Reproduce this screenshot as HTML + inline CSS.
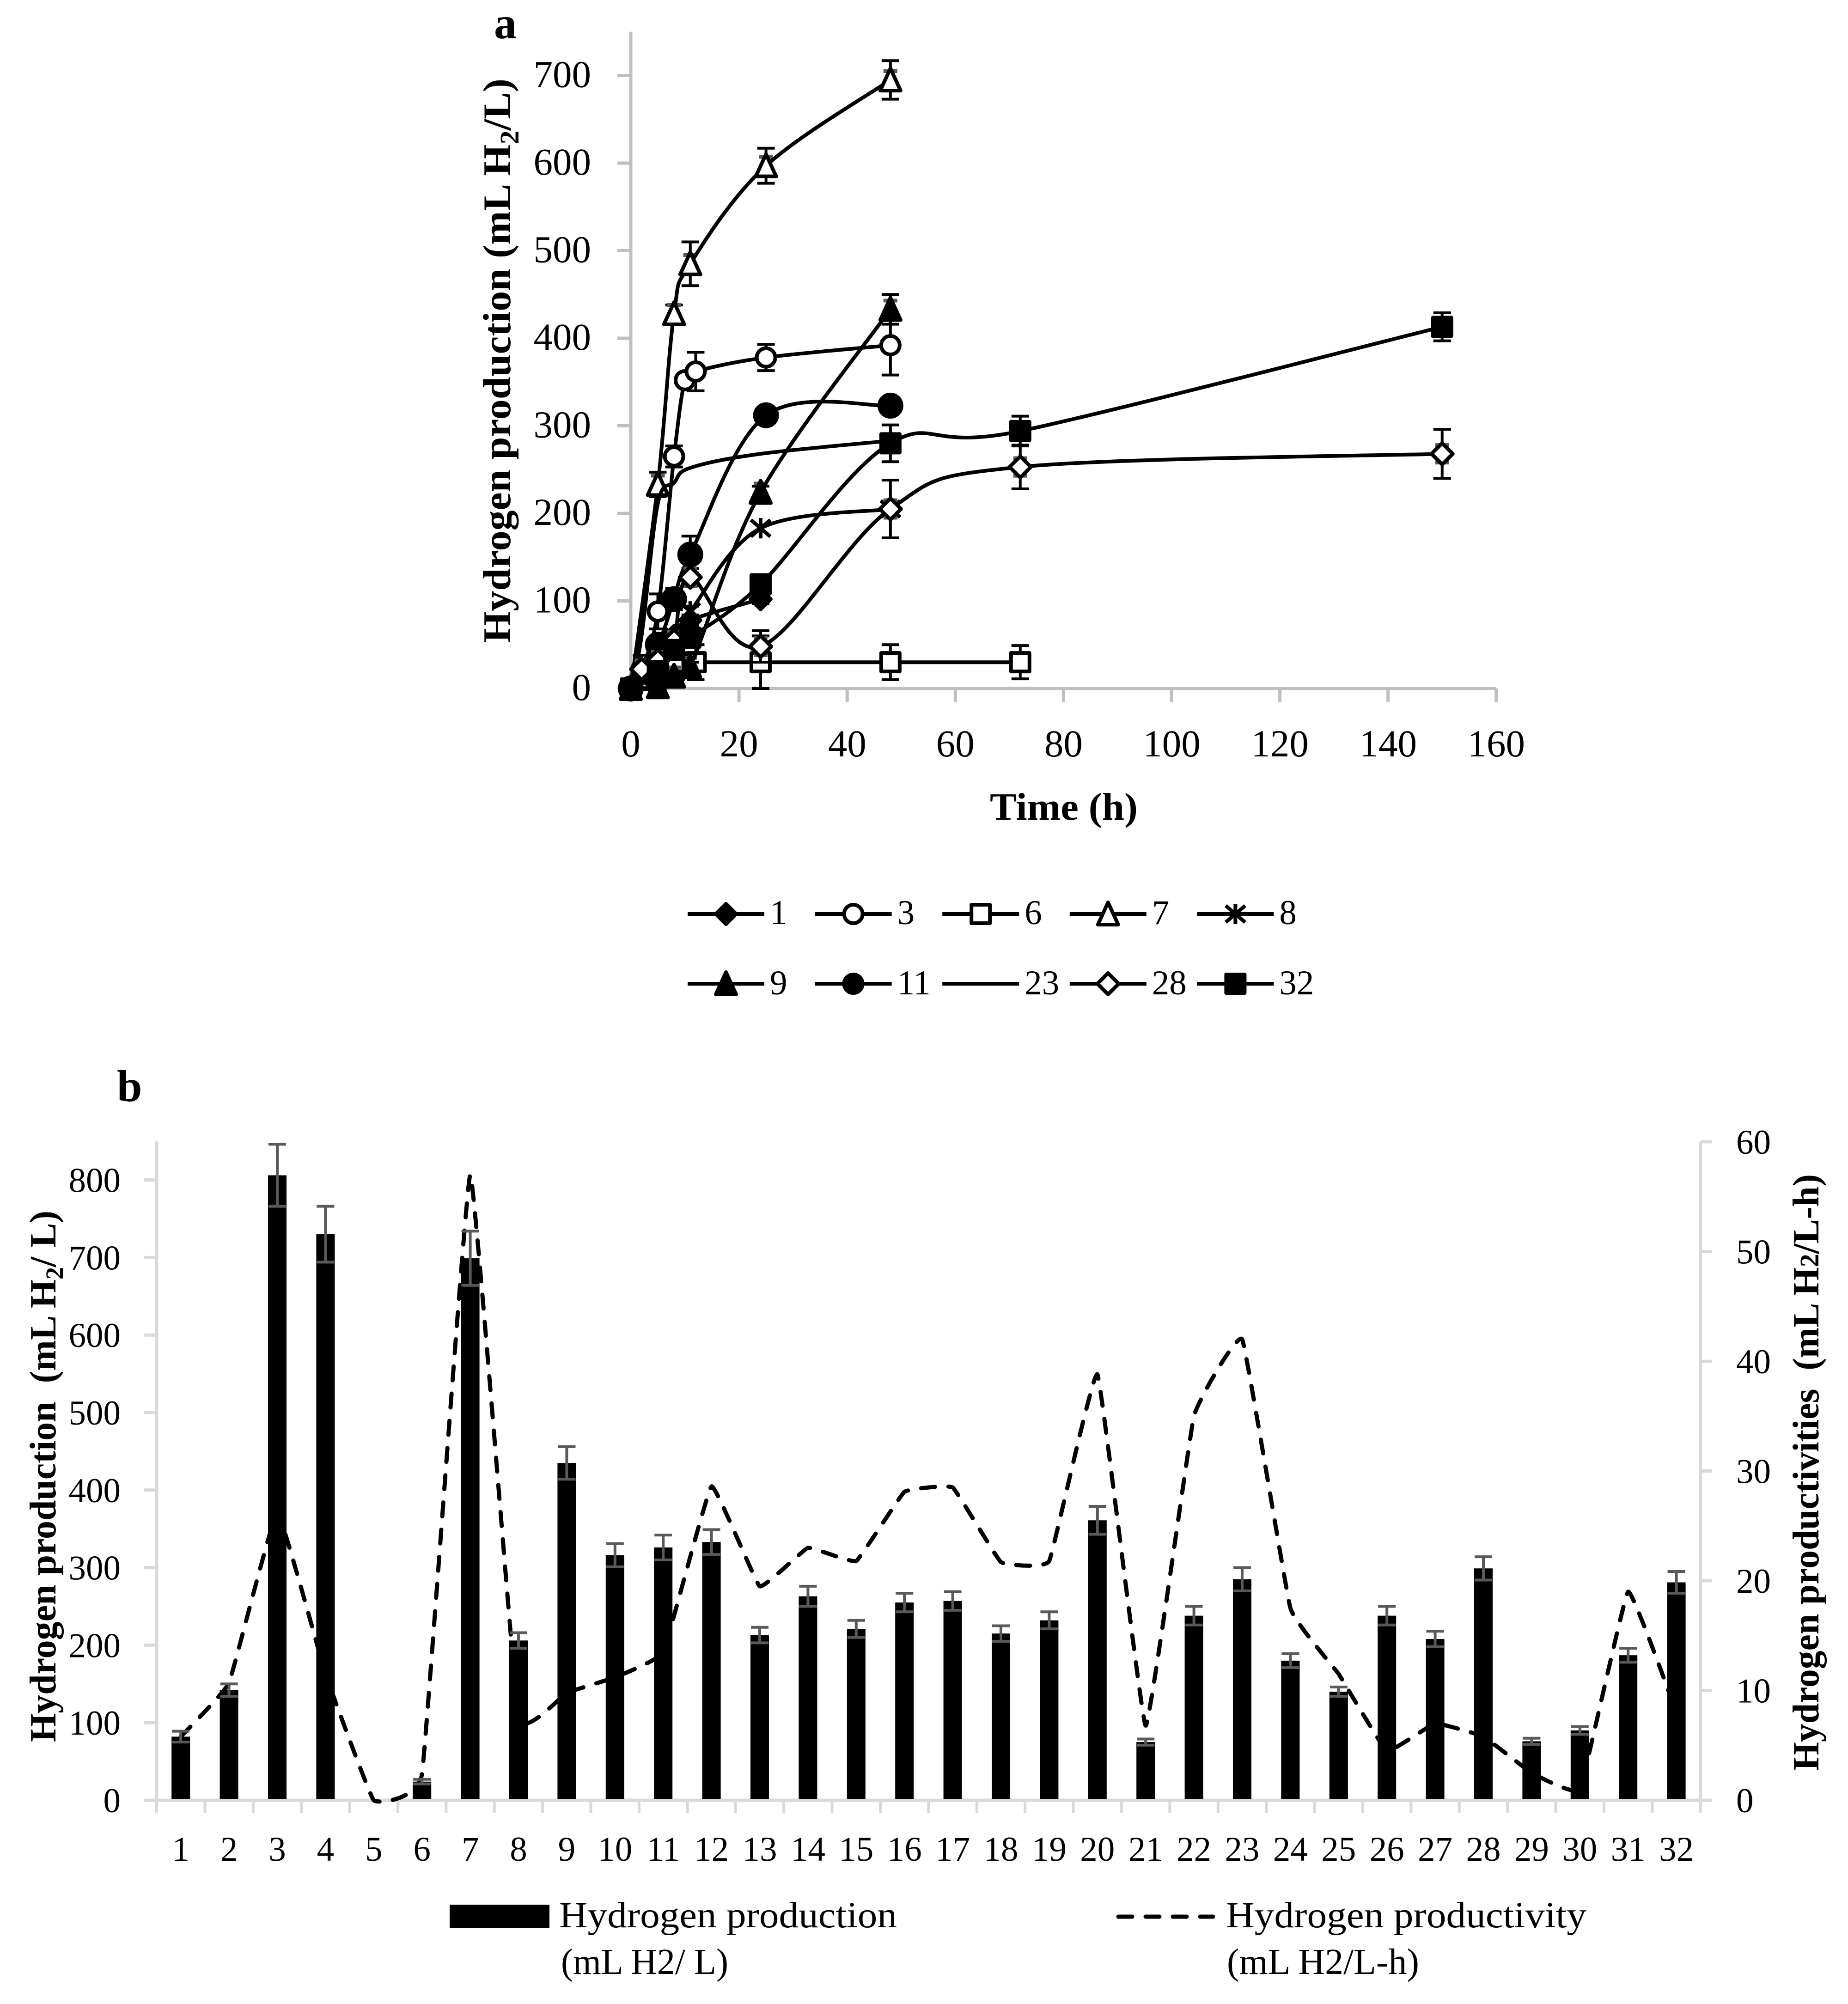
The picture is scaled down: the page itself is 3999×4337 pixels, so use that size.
<!DOCTYPE html>
<html lang="en">
<head>
<meta charset="utf-8">
<title>Hydrogen production charts</title>
<style>
html,body{margin:0;padding:0;background:#fff;}
svg{display:block;}
text{font-family:"Liberation Serif",serif;fill:#000;}
</style>
</head>
<body>
<svg id="figure" xmlns="http://www.w3.org/2000/svg" width="3999" height="4337" viewBox="0 0 3999 4337">
  <rect x="0" y="0" width="3999" height="4337" fill="#fff"/>
  <g id="chartA"></g>
  <g id="chartB"></g>

  <text x="1069" y="83" font-size="98" font-weight="bold">a</text>
  <text transform="translate(1104,1391) rotate(-90)" font-size="85" font-weight="bold" textLength="1221" lengthAdjust="spacingAndGlyphs">Hydrogen production (mL H<tspan font-size="58" dy="18">2</tspan><tspan dy="-18">/L)</tspan></text>
  <text x="2142" y="1774" font-size="84" font-weight="bold" textLength="320" lengthAdjust="spacingAndGlyphs">Time (h)</text>

  <text x="253" y="2383" font-size="98" font-weight="bold">b</text>
  <text transform="translate(120,3770) rotate(-90)" font-size="80" font-weight="bold" textLength="1150" lengthAdjust="spacingAndGlyphs" xml:space="preserve">Hydrogen production  (mL H<tspan font-size="54" dy="16">2</tspan><tspan dy="-16">/ L)</tspan></text>
  <text transform="translate(3935,3832) rotate(-90)" font-size="80" font-weight="bold" textLength="1291" lengthAdjust="spacingAndGlyphs" xml:space="preserve">Hydrogen productivities  (mL H<tspan font-size="58">2</tspan>/L-h)</text>

  <rect x="973" y="4122" width="216" height="51" fill="#000"/>
  <text x="1210" y="4171" font-size="79" textLength="731" lengthAdjust="spacingAndGlyphs">Hydrogen production</text>
  <text x="1214" y="4272" font-size="79" textLength="362" lengthAdjust="spacingAndGlyphs">(mL H2/ L)</text>
  <line x1="2420" y1="4148" x2="2625" y2="4148" stroke="#000" stroke-width="9" stroke-dasharray="30 29" stroke-linecap="round"/>
  <text x="2653" y="4171" font-size="79" textLength="780" lengthAdjust="spacingAndGlyphs">Hydrogen productivity</text>
  <text x="2655" y="4272" font-size="79" textLength="416" lengthAdjust="spacingAndGlyphs">(mL H2/L-h)</text>
</svg>

<script>
/* ---------- Chart a data ---------- */
const timeTicks = [0, 20, 40, 60, 80, 100, 120, 140, 160];
const productionTicks = [0, 100, 200, 300, 400, 500, 600, 700];

const strain1Time = [0, 2, 5, 8, 11, 24];
const strain1Value = [0, 15, 40, 60, 78, 102];
const strain1Error = [0, 2, 4, 5, 6, 5];

const strain3Time = [0, 2, 5, 8, 10, 12, 25, 48];
const strain3Value = [0, 22, 88, 265, 352, 362, 378, 392];
const strain3Error = [0, 3, 20, 12, 0, 22, 15, 34];

const strain6Time = [0, 2, 5, 8, 12, 24, 48, 72];
const strain6Value = [0, 10, 28, 30, 30, 30, 30, 30];
const strain6Error = [0, 3, 5, 5, 20, 30, 20, 19];

const strain7Time = [0, 5, 8, 11, 25, 48];
const strain7Value = [0, 233, 428, 485, 597, 695];
const strain7Error = [0, 14, 10, 25, 20, 22];

const strain8Time = [0, 2, 5, 8, 11, 24, 48];
const strain8Value = [0, 10, 45, 60, 88, 183, 205];
const strain8Error = [0, 2, 5, 6, 6, 0, 0];

const strain9Time = [0, 5, 8, 11, 24, 48];
const strain9Value = [0, 2, 14, 25, 224, 433];
const strain9Error = [0, 2, 3, 5, 7, 17];

const strain11Time = [0, 5, 8, 11, 25, 48];
const strain11Value = [0, 50, 102, 153, 312, 323];
const strain11Error = [0, 8, 12, 21, 0, 0];

const strain23Time = [0, 2, 5, 8, 11, 24, 48];
const strain23Value = [0, 60, 211, 235, 252, 268, 283];

const strain28Time = [0, 2, 5, 8, 11, 24, 48, 72, 150];
const strain28Value = [0, 22, 32, 55, 127, 48, 205, 253, 268];
const strain28Error = [0, 16, 6, 8, 10, 18, 33, 25, 28];

const strain32Time = [0, 5, 8, 11, 24, 48, 72, 150];
const strain32Value = [0, 20, 44, 58, 119, 280, 294, 413];
const strain32Error = [0, 5, 8, 10, 6, 21, 17, 16];

const legendRow1 = ['1', '3', '6', '7', '8'];
const legendRow2 = ['9', '11', '23', '28', '32'];

/* ---------- Chart b data ---------- */
const samples = ['1','2','3','4','5','6','7','8','9','10','11','12','13','14','15','16','17','18','19','20','21','22','23','24','25','26','27','28','29','30','31','32'];
const productionValues = [82, 142, 806, 730, 0, 24, 699, 206, 435, 316, 326, 333, 213, 263, 221, 255, 257, 215, 232, 361, 75, 238, 285, 180, 140, 238, 208, 299, 76, 90, 187, 281];
const productionErrors = [7, 8, 40, 36, 0, 3, 35, 10, 21, 15, 16, 16, 10, 13, 11, 12, 12, 10, 11, 18, 4, 12, 15, 9, 6, 12, 10, 15, 4, 5, 9, 14];
const productivityValues = [5.8, 10.7, 26.2, 11.5, 0, 2.4, 57, 7.5, 9.8, 11.2, 13.5, 28.6, 19.5, 23, 21.8, 28.1, 28.5, 21.7, 21.8, 38.8, 6.8, 35, 42, 17.5, 11.5, 4.5, 7, 5.8, 2.5, 1, 19, 8];
const leftAxisTicks = [0, 100, 200, 300, 400, 500, 600, 700, 800];
const rightAxisTicks = [0, 10, 20, 30, 40, 50, 60];

/* ---------- Helpers ---------- */
const NS = 'http://www.w3.org/2000/svg';
function make(tag, attrs, parent) {
  const el = document.createElementNS(NS, tag);
  for (const k in attrs) el.setAttribute(k, attrs[k]);
  parent.appendChild(el);
  return el;
}
function smoothPath(pts, k) {
  let d = 'M' + pts[0][0] + ' ' + pts[0][1];
  for (let i = 0; i < pts.length - 1; i++) {
    const p0 = pts[i - 1] || pts[i], p1 = pts[i], p2 = pts[i + 1], p3 = pts[i + 2] || p2;
    const c1x = p1[0] + (p2[0] - p0[0]) / k, c1y = p1[1] + (p2[1] - p0[1]) / k;
    const c2x = p2[0] - (p3[0] - p1[0]) / k, c2y = p2[1] - (p3[1] - p1[1]) / k;
    d += ' C' + c1x.toFixed(1) + ' ' + c1y.toFixed(1) + ' ' + c2x.toFixed(1) + ' ' + c2y.toFixed(1) + ' ' + p2[0].toFixed(1) + ' ' + p2[1].toFixed(1);
  }
  return d;
}
const STROKE = 8;
function drawMarker(kind, cx, cy, parent, circleR) {
  const common = { stroke: '#000', 'stroke-width': STROKE, 'stroke-linejoin': 'round' };
  let el;
  if (kind === 'diamond-filled' || kind === 'diamond-open') {
    const r = kind === 'diamond-open' ? 23 : 22;
    el = make('polygon', Object.assign({ points: (cx) + ',' + (cy - r) + ' ' + (cx + r) + ',' + cy + ' ' + cx + ',' + (cy + r) + ' ' + (cx - r) + ',' + cy, fill: kind === 'diamond-open' ? '#fff' : '#000' }, common), parent);
  } else if (kind === 'circle-open') {
    el = make('circle', Object.assign({ cx: cx, cy: cy, r: 20, fill: '#fff' }, common), parent);
  } else if (kind === 'circle-filled') {
    el = make('circle', Object.assign({ cx: cx, cy: cy, r: circleR || 24, fill: '#000' }, common), parent);
  } else if (kind === 'square-open' || kind === 'square-filled') {
    el = make('rect', Object.assign({ x: cx - 20, y: cy - 20, width: 40, height: 40, fill: kind === 'square-open' ? '#fff' : '#000' }, common), parent);
  } else if (kind === 'triangle-open' || kind === 'triangle-filled') {
    el = make('polygon', Object.assign({ points: cx + ',' + (cy - 25) + ' ' + (cx + 22) + ',' + (cy + 23) + ' ' + (cx - 22) + ',' + (cy + 23), fill: kind === 'triangle-open' ? '#fff' : '#000' }, common), parent);
  } else if (kind === 'star') {
    el = make('path', { d: 'M' + (cx - 21) + ' ' + (cy - 18) + 'L' + (cx + 21) + ' ' + (cy + 18) + 'M' + (cx + 21) + ' ' + (cy - 18) + 'L' + (cx - 21) + ' ' + (cy + 18) + 'M' + cx + ' ' + (cy - 22) + 'L' + cx + ' ' + (cy + 22), stroke: '#000', 'stroke-width': STROKE, fill: 'none' }, parent);
  }
  return el;
}

/* ---------- Chart a ---------- */
const chartA = document.getElementById('chartA');
const xA = t => 1365 + t * 11.705;
const yA = v => 1490 - v * 1.895;
const AXIS_A = '#bfbfbf';

const xAxisA = make('line', { x1: xA(0), y1: yA(0), x2: xA(160), y2: yA(0), stroke: AXIS_A, 'stroke-width': 7 }, chartA);


const yAxisA = make('line', { x1: xA(0), y1: yA(750), x2: xA(0), y2: yA(0), stroke: AXIS_A, 'stroke-width': 7 }, chartA);



timeTicks.forEach(t => {
  const tick = make('line', { x1: xA(t), y1: yA(0), x2: xA(t), y2: yA(0) + 29, stroke: AXIS_A, 'stroke-width': 7 }, chartA);
  
  
  const label = make('text', { x: xA(t), y: 1637, 'font-size': 83, 'text-anchor': 'middle' }, chartA);
  label.textContent = t;
  
  
});
productionTicks.forEach(v => {
  const tick = make('line', { x1: xA(0) - 29, y1: yA(v), x2: xA(0), y2: yA(v), stroke: AXIS_A, 'stroke-width': 7 }, chartA);
  
  
  const label = make('text', { x: 1279, y: yA(v) + 25, 'font-size': 83, 'text-anchor': 'end' }, chartA);
  label.textContent = v;
  
  
});

function drawSeries(name, times, values, errors, kind) {
  const g = make('g', {}, chartA);
  
  
  if (errors) {
    times.forEach((t, i) => {
      if (!errors[i]) return;
      const hi = yA(values[i] + errors[i]), lo = yA(values[i] - errors[i]), x = xA(t);
      const bar = make('path', { d: 'M' + x + ' ' + hi + 'L' + x + ' ' + lo + 'M' + (x - 19) + ' ' + hi + 'L' + (x + 19) + ' ' + hi + 'M' + (x - 19) + ' ' + lo + 'L' + (x + 19) + ' ' + lo, stroke: '#000', 'stroke-width': 6, fill: 'none' }, g);
      
      
      if (kind === 'triangle-open' || kind === 'triangle-filled' || kind === 'diamond-open') {
        const y0 = yA(values[i]);
        const shade = make('path', { d: 'M' + (x - 15) + ' ' + (y0 - 19) + 'L' + (x + 15) + ' ' + (y0 - 19) + 'M' + (x - 15) + ' ' + (y0 + 19) + 'L' + (x + 15) + ' ' + (y0 + 19), stroke: '#595959', 'stroke-width': 8, fill: 'none' }, g);
        
        
      }
    });
  }
  const pts = times.map((t, i) => [xA(t), yA(values[i])]);
  const line = make('path', { d: smoothPath(pts, 6), fill: 'none', stroke: '#000', 'stroke-width': 8 }, g);
  
  
  if (kind) {
    pts.forEach(p => {
      const m = drawMarker(kind, p[0], p[1], g);
      
      
    });
  }
}
drawSeries('1', strain1Time, strain1Value, strain1Error, 'diamond-filled');
drawSeries('3', strain3Time, strain3Value, strain3Error, 'circle-open');
drawSeries('6', strain6Time, strain6Value, strain6Error, 'square-open');
drawSeries('7', strain7Time, strain7Value, strain7Error, 'triangle-open');
drawSeries('8', strain8Time, strain8Value, strain8Error, 'star');
drawSeries('9', strain9Time, strain9Value, strain9Error, 'triangle-filled');
drawSeries('11', strain11Time, strain11Value, strain11Error, 'circle-filled');
drawSeries('23', strain23Time, strain23Value, null, null);
drawSeries('28', strain28Time, strain28Value, strain28Error, 'diamond-open');
drawSeries('32', strain32Time, strain32Value, strain32Error, 'square-filled');

const legendKinds = { '1': 'diamond-filled', '3': 'circle-open', '6': 'square-open', '7': 'triangle-open', '8': 'star', '9': 'triangle-filled', '11': 'circle-filled', '23': null, '28': 'diamond-open', '32': 'square-filled' };
function drawLegendRow(labels, y, baseline) {
  labels.forEach((lab, i) => {
    const x0 = 1488 + i * 275.6;
    const entry = make('g', {}, chartA);
    
    
    make('line', { x1: x0, y1: y, x2: x0 + 166, y2: y, stroke: '#000', 'stroke-width': 8 }, entry);
    if (legendKinds[lab]) drawMarker(legendKinds[lab], x0 + 83, y, entry, 20);
    const t = make('text', { x: x0 + 178, y: baseline, 'font-size': 75 }, entry);
    t.textContent = lab;
    
    
  });
}
drawLegendRow(legendRow1, 1978, 2000);
drawLegendRow(legendRow2, 2129, 2152);

/* ---------- Chart b ---------- */
const chartB = document.getElementById('chartB');
const AXIS_B = '#d9d9d9';
const xB0 = 339, xBStep = 104.4;
const xB = i => xB0 + xBStep * (i + 0.5);
const yB = v => 3896 - v * 1.678;
const yR = v => 3896 - v * 23.75;

const xAxisB = make('line', { x1: xB0, y1: yB(0), x2: xB0 + 32 * xBStep, y2: yB(0), stroke: AXIS_B, 'stroke-width': 7 }, chartB);


const leftAxis = make('line', { x1: xB0, y1: yB(850), x2: xB0, y2: yB(0), stroke: AXIS_B, 'stroke-width': 7 }, chartB);


const rightAxis = make('line', { x1: xB0 + 32 * xBStep, y1: yR(60), x2: xB0 + 32 * xBStep, y2: yR(0), stroke: AXIS_B, 'stroke-width': 7 }, chartB);



for (let i = 0; i <= samples.length; i++) {
  const x = xB0 + i * xBStep;
  const tick = make('line', { x1: x, y1: yB(0), x2: x, y2: yB(0) + 27, stroke: AXIS_B, 'stroke-width': 6 }, chartB);
  
  
}
samples.forEach((s, i) => {
  const label = make('text', { x: xB(i), y: 4027, 'font-size': 75, 'text-anchor': 'middle' }, chartB);
  label.textContent = s;
  
  
});
leftAxisTicks.forEach(v => {
  const tick = make('line', { x1: xB0 - 27, y1: yB(v), x2: xB0, y2: yB(v), stroke: AXIS_B, 'stroke-width': 7 }, chartB);
  
  
  const label = make('text', { x: 261, y: yB(v) + 26, 'font-size': 75, 'text-anchor': 'end' }, chartB);
  label.textContent = v;
  
  
});
rightAxisTicks.forEach(v => {
  const tick = make('line', { x1: xB0 + 32 * xBStep, y1: yR(v), x2: xB0 + 32 * xBStep + 25, y2: yR(v), stroke: AXIS_B, 'stroke-width': 7 }, chartB);
  
  
  const label = make('text', { x: 3757, y: yR(v) + 26, 'font-size': 75 }, chartB);
  label.textContent = v;
  
  
});

const prodLine = make('path', { d: smoothPath(productivityValues.map((v, i) => [xB(i), yR(v)]), 24), fill: 'none', stroke: '#000', 'stroke-width': 9, 'stroke-dasharray': '30 29', 'stroke-linecap': 'round' }, chartB);



productionValues.forEach((v, i) => {
  const bar = make('rect', { x: xB(i) - 20, y: yB(v), width: 40, height: yB(0) - yB(v) - 3, fill: '#000' }, chartB);
  
  
  const e = productionErrors[i];
  if (e) {
    const x = xB(i), hi = yB(v + e), lo = yB(v - e);
    const err = make('path', { d: 'M' + x + ' ' + hi + 'L' + x + ' ' + lo + 'M' + (x - 19) + ' ' + hi + 'L' + (x + 19) + ' ' + hi + 'M' + (x - 19) + ' ' + lo + 'L' + (x + 19) + ' ' + lo, stroke: '#595959', 'stroke-width': 6, fill: 'none' }, chartB);
    
    
  }
});
</script>
</body>
</html>
